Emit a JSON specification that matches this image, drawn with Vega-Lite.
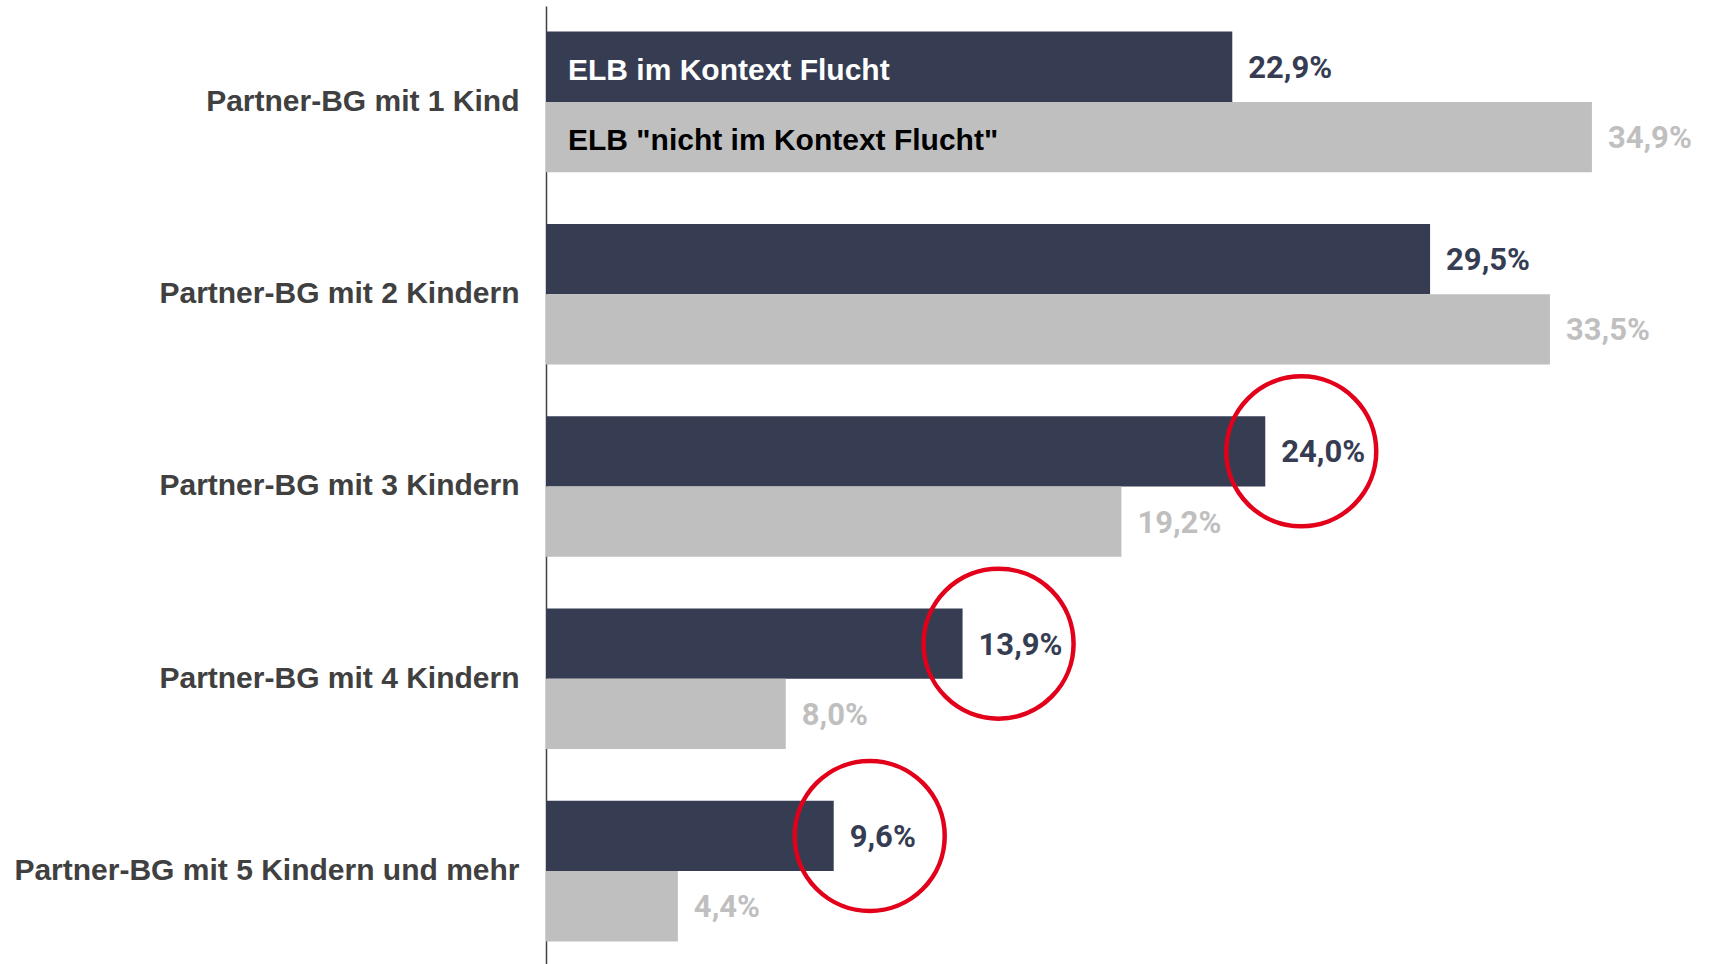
{
  "$schema": "https://vega.github.io/schema/vega-lite/v6.json",
  "width": 1164,
  "height": 958,
  "autosize": {"type": "none"},
  "padding": {"left": 546, "top": 6, "right": 0, "bottom": 0},
  "background": "white",
  "config": {
    "view": {"stroke": null},
    "locale": {"number": {"decimal": ",", "thousands": ".", "grouping": [3], "currency": ["", " €"]}}
  },
  "data": {
    "values": [
      {"category": "Partner-BG mit 1 Kind", "series": "ELB im Kontext Flucht", "share": 0.229},
      {"category": "Partner-BG mit 1 Kind", "series": "ELB \"nicht im Kontext Flucht\"", "share": 0.349},
      {"category": "Partner-BG mit 2 Kindern", "series": "ELB im Kontext Flucht", "share": 0.295},
      {"category": "Partner-BG mit 2 Kindern", "series": "ELB \"nicht im Kontext Flucht\"", "share": 0.335},
      {"category": "Partner-BG mit 3 Kindern", "series": "ELB im Kontext Flucht", "share": 0.240},
      {"category": "Partner-BG mit 3 Kindern", "series": "ELB \"nicht im Kontext Flucht\"", "share": 0.192},
      {"category": "Partner-BG mit 4 Kindern", "series": "ELB im Kontext Flucht", "share": 0.139},
      {"category": "Partner-BG mit 4 Kindern", "series": "ELB \"nicht im Kontext Flucht\"", "share": 0.080},
      {"category": "Partner-BG mit 5 Kindern und mehr", "series": "ELB im Kontext Flucht", "share": 0.096},
      {"category": "Partner-BG mit 5 Kindern und mehr", "series": "ELB \"nicht im Kontext Flucht\"", "share": 0.044}
    ]
  },
  "encoding": {
    "y": {
      "field": "category", "type": "nominal", "sort": null,
      "scale": {"paddingInner": 0.269, "paddingOuter": 0.1253, "align": 0.531},
      "axis": {
        "title": null, "ticks": false, "grid": false,
        "domainColor": "#404040", "domainWidth": 1.5,
        "labelFont": "Liberation Sans, Arial, sans-serif", "labelFontWeight": "bold", "labelFontSize": 30,
        "labelColor": "#404040", "labelPadding": 27, "labelLimit": 600
      }
    },
    "yOffset": {
      "field": "series", "type": "nominal", "sort": null,
      "scale": {"paddingInner": 0, "paddingOuter": 0}
    }
  },
  "layer": [
    {
      "mark": {"type": "bar"},
      "encoding": {
        "x": {"field": "share", "type": "quantitative", "scale": {"domain": [0, 0.3884], "nice": false}, "axis": null},
        "color": {
          "field": "series", "type": "nominal", "sort": null,
          "scale": {"domain": ["ELB im Kontext Flucht", "ELB \"nicht im Kontext Flucht\""], "range": ["#363d53", "#bfbfbf"]},
          "legend": null
        }
      }
    },
    {
      "mark": {"type": "text", "align": "left", "baseline": "middle", "dx": 16, "dy": 2, "font": "Roboto", "fontWeight": "bold", "fontSize": 31},
      "encoding": {
        "x": {"field": "share", "type": "quantitative"},
        "text": {"field": "share", "type": "quantitative", "format": ".1%"},
        "color": {"field": "series", "type": "nominal", "sort": null, "legend": null}
      }
    },
    {
      "transform": [{"filter": "datum.category === 'Partner-BG mit 1 Kind'"}],
      "mark": {"type": "text", "align": "left", "baseline": "middle", "dx": 22, "dy": 4, "font": "Liberation Sans, Arial, sans-serif", "fontWeight": "bold", "fontSize": 30},
      "encoding": {
        "x": {"datum": 0, "type": "quantitative"},
        "text": {"field": "series", "type": "nominal"},
        "color": {"condition": {"test": "datum.series === 'ELB im Kontext Flucht'", "value": "#ffffff"}, "value": "#000000"}
      }
    },
    {
      "transform": [
        {"filter": "datum.series === 'ELB im Kontext Flucht'"},
        {"filter": {"field": "category", "oneOf": ["Partner-BG mit 3 Kindern", "Partner-BG mit 4 Kindern", "Partner-BG mit 5 Kindern und mehr"]}}
      ],
      "mark": {"type": "point", "shape": "circle", "filled": false, "size": 22500, "strokeWidth": 4.5, "stroke": "#e2001a", "opacity": 1, "xOffset": 36},
      "encoding": {
        "x": {"field": "share", "type": "quantitative"}
      }
    }
  ]
}
